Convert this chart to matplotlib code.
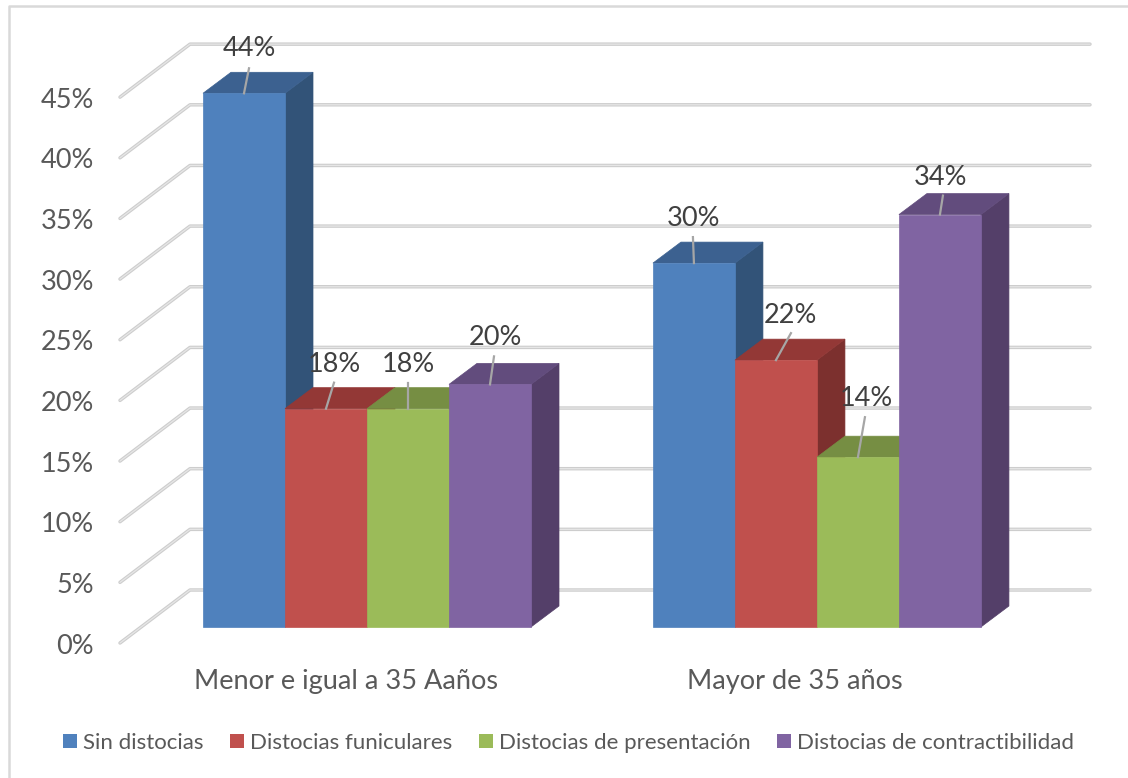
# -*- coding: utf-8 -*-
import matplotlib
matplotlib.use('Agg')
import matplotlib.pyplot as plt
from matplotlib.patches import Polygon, Patch

plt.rcParams['font.family'] = ['Lato', 'DejaVu Sans']

# datos
grupos = ['Menor e igual a 35 Aaños', 'Mayor de 35 años']
series = ['Sin distocias', 'Distocias funiculares',
          'Distocias de presentación', 'Distocias de contractibilidad']
sin_distocias = [44, 30]
funiculares = [18, 22]
presentacion = [18, 14]
contractibilidad = [20, 34]
ticks_y = [0, 5, 10, 15, 20, 25, 30, 35, 40, 45]

# colores de cada serie: frente, tapa, lado
col_frente = ['#4f81bd', '#c0504d', '#9bbb59', '#8064a2']
col_tapa = ['#3c6190', '#933836', '#768e43', '#624c7d']
col_lado = ['#325378', '#7c302e', '#63783a', '#543f69']

# escala: 1 barra = 82 px, 1% = 12.13 px
PX_X = 82.0
PX_Y = 12.13
W, H = 1128, 778
X0, Y0 = 203, 627   # pixel del origen (primera barra, base)
SEP_GRUPO = 5.487

fig = plt.figure(figsize=(W / 100, H / 100), dpi=100)
ax = fig.add_axes([0, 0, 1, 1])
ax.set_xlim(-X0 / PX_X, (W - X0) / PX_X)
ax.set_ylim(-(H - Y0) / PX_Y, Y0 / PX_Y)
ax.axis('off')

# profundidad de las barras y de la pared
prof_x, prof_y = 28 / PX_X, 21 / PX_Y
frente_x, frente_y = -83 / PX_X, -16 / PX_Y
fondo_x, fondo_y = -13 / PX_X, 37 / PX_Y
fin_x = (1090 - X0) / PX_X

# marco
ax.plot([W / PX_X, -X0 / PX_X + 8.5 / PX_X, -X0 / PX_X + 8.5 / PX_X],
        [(Y0 - 5.5) / PX_Y, (Y0 - 5.5) / PX_Y, -(H - Y0) / PX_Y],
        color='#d9d9d9', lw=1.8, solid_capstyle='butt', zorder=1)

# rejilla
for t in ticks_y:
    xs = [frente_x, fondo_x, fin_x]
    ys = [t + frente_y, t + fondo_y, t + fondo_y]
    ax.plot(xs, ys, color='#cdcdcd', lw=2.5, solid_capstyle='round', zorder=2)
    ax.plot(xs, ys, color='#e6e6e6', lw=0.9, solid_capstyle='round', zorder=2)
    ax.text(-X0 / PX_X + 94 / PX_X, t + frente_y - 3 / PX_Y, str(t) + '%', ha='right', va='center',
            fontsize=19.5, color='#595959')

# barras
valores = [sin_distocias, funiculares, presentacion, contractibilidad]
z = 3
for g in range(len(grupos)):
    for s in range(len(series)):
        x = g * SEP_GRUPO + s
        v = valores[s][g]
        lado = [(x + 1, 0), (x + 1 + prof_x, prof_y), (x + 1 + prof_x, v + prof_y), (x + 1, v)]
        tapa = [(x, v), (x + prof_x, v + prof_y), (x + 1 + prof_x, v + prof_y), (x + 1, v)]
        frente = [(x, 0), (x + 1, 0), (x + 1, v), (x, v)]
        ax.add_patch(Polygon(lado, facecolor=col_lado[s], edgecolor=col_lado[s], lw=0.5, zorder=z))
        ax.add_patch(Polygon(tapa, facecolor=col_tapa[s], edgecolor=col_tapa[s], lw=0.5, zorder=z))
        ax.add_patch(Polygon(frente, facecolor=col_frente[s], edgecolor=col_frente[s], lw=0.5, zorder=z))
        z += 1
    # etiqueta de categoria
    ax.text(g * SEP_GRUPO + [1.75, 1.73][g], -(682 - Y0) / PX_Y, grupos[g], ha='center', va='center',
            fontsize=19.5, color='#595959')

# etiquetas de datos movidas a mano, desplazamiento en px desde el centro de la tapa
texto_dx = [[5, 0], [8, 15], [0, 8], [5, 1]]
texto_dy = [[45, 45], [44, 45], [44, 59], [47, 37]]
linea_dx = [[5, -1], [8, 15], [0, 7], [4, 3]]
linea_dy = [[25, 26], [26, 27], [26, 40], [28, 19]]

for g in range(len(grupos)):
    for s in range(len(series)):
        x = g * SEP_GRUPO + s + 0.5
        v = valores[s][g]
        ax.plot([x, x + linea_dx[s][g] / PX_X], [v, v + linea_dy[s][g] / PX_Y],
                color='#a6a6a6', lw=1.6, zorder=20)
        ax.text(x + texto_dx[s][g] / PX_X, v + texto_dy[s][g] / PX_Y, str(v) + '%',
                ha='center', va='center', fontsize=19.5, color='#404040', zorder=21)

# leyenda
handles = [Patch(facecolor=c, edgecolor='none') for c in col_frente]
ax.legend(handles, series, ncol=4, loc='center', frameon=False,
          bbox_to_anchor=(568.5 / W, 1 - 743 / H), fontsize=16, labelcolor='#595959',
          handlelength=0.63, handleheight=0.63, handletextpad=0.25, columnspacing=1.22,
          borderpad=0, borderaxespad=0)

fig.savefig('out.png', dpi=100, facecolor='white')
